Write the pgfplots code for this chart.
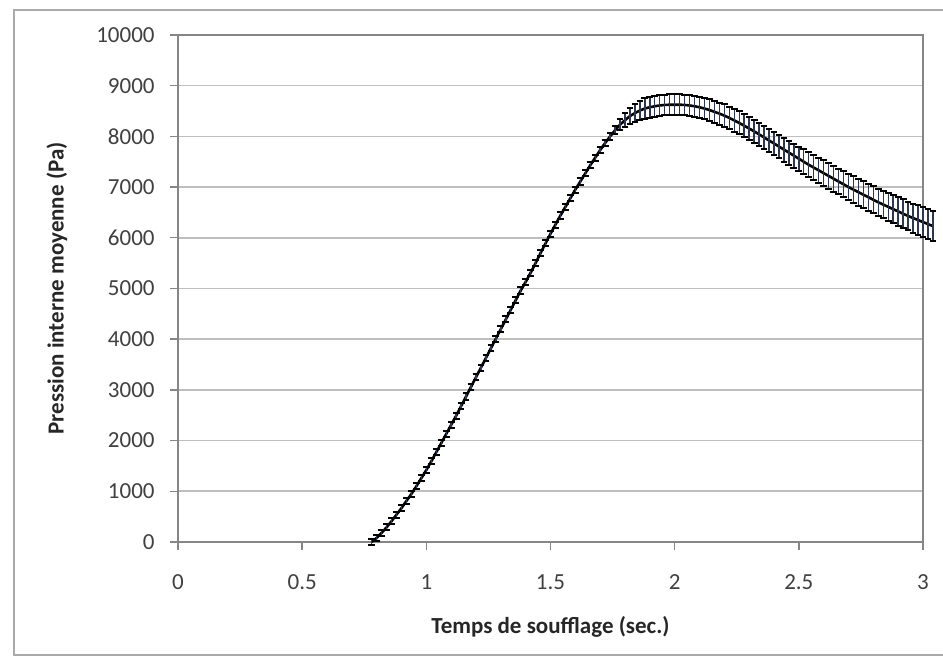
\documentclass[border=0pt]{standalone}
\usepackage{fontspec}
\setmainfont{Carlito}
\usepackage{pgfplots}
\pgfplotsset{compat=1.18}
\usepackage{pgfplotstable}

\definecolor{gridgray}{RGB}{190,190,190}
\definecolor{axgray}{RGB}{134,134,134}
\definecolor{txtgray}{RGB}{64,64,64}
\definecolor{barcol}{RGB}{45,55,78}

% temps (s), pression (Pa), ecart (Pa)
\pgfplotstableread{
t p e
0.78 0 60
0.80 80 60
0.82 180 60
0.84 290 60
0.86 410 60
0.88 540 60
0.90 670 60
0.92 810 60
0.94 950 60
0.96 1100 60
0.98 1260 60
1.00 1420 60
1.02 1590 60
1.04 1770 60
1.06 1950 60
1.08 2130 60
1.10 2310 60
1.12 2490 60
1.14 2680 60
1.16 2870 60
1.18 3060 60
1.20 3250 60
1.22 3440 60
1.24 3630 60
1.26 3820 60
1.28 4010 60
1.30 4200 60
1.32 4390 60
1.34 4580 60
1.36 4770 60
1.38 4960 60
1.40 5130 60
1.42 5310 60
1.44 5500 60
1.46 5700 60
1.48 5890 60
1.50 6080 60
1.52 6260 60
1.54 6440 60
1.56 6610 60
1.58 6780 60
1.60 6950 60
1.62 7110 60
1.64 7270 60
1.66 7430 60
1.68 7580 60
1.70 7730 60
1.72 7870 60
1.74 8000 65
1.76 8120 80
1.78 8230 110
1.80 8320 140
1.82 8400 165
1.84 8460 185
1.86 8510 195
1.88 8550 200
1.90 8575 205
1.92 8595 205
1.94 8610 205
1.96 8620 205
1.98 8625 205
2.00 8625 205
2.02 8625 205
2.04 8620 205
2.06 8610 207
2.08 8595 208
2.10 8575 210
2.12 8550 212
2.14 8520 214
2.16 8485 216
2.18 8450 218
2.20 8410 220
2.22 8365 222
2.24 8315 224
2.26 8265 226
2.28 8210 228
2.30 8155 229
2.32 8100 230
2.34 8040 232
2.36 7980 233
2.38 7920 234
2.40 7860 235
2.42 7800 236
2.44 7740 237
2.46 7680 238
2.48 7620 239
2.50 7560 240
2.52 7500 242
2.54 7440 244
2.56 7385 246
2.58 7330 248
2.60 7275 250
2.62 7220 252
2.64 7165 254
2.66 7110 256
2.68 7055 258
2.70 7000 260
2.72 6950 262
2.74 6900 264
2.76 6850 266
2.78 6800 268
2.80 6750 270
2.82 6700 272
2.84 6655 274
2.86 6610 276
2.88 6565 278
2.90 6520 280
2.92 6475 282
2.94 6430 284
2.96 6390 286
2.98 6350 288
3.00 6310 290
3.02 6270 290
3.04 6230 290
}\souffle

\begin{document}
\begin{tikzpicture}
  % image 943 x 662 px, 1 px = 0.5 pt, origin bottom left
  \path[use as bounding box, fill=white] (0,0) rectangle (471.5pt,331pt);
  \draw[axgray!70, line width=1pt] (471.5pt,326pt) -- (7pt,326pt) -- (7pt,3.5pt) -- (471.5pt,3.5pt);
  \begin{axis}[
    at={(89pt,60pt)}, anchor=south west,
    scale only axis,
    width=372.5pt, height=253.5pt,
    xmin=0, xmax=3,
    ymin=0, ymax=10000,
    xtick={0,0.5,...,3},
    ytick={0,1000,...,10000},
    scaled y ticks=false,
    clip=false,
    axis line style={axgray, line width=0.8pt},
    tick style={axgray, line width=0.7pt},
    tick align=outside,
    major tick length=4pt,
    xtick pos=bottom, ytick pos=left,
    ymajorgrids=true,
    grid style={gridgray, line width=0.8pt},
    /pgf/number format/assume math mode=true,
    /pgf/number format/1000 sep={},
    tick label style={font=\fontsize{11.5}{13}\selectfont, text=txtgray},
    yticklabel style={anchor=east, inner sep=0pt, xshift=-7.5pt},
    xticklabel style={anchor=north, inner sep=0pt, yshift=-12pt},
    xlabel={\textbf{Temps de soufflage (sec.)}},
    ylabel={\textbf{Pression interne moyenne (Pa)}},
    label style={font=\fontsize{11.5}{13}\selectfont, text=black!85},
    xlabel style={at={(axis description cs:0.5,-0.1677)}, anchor=center},
    ylabel style={at={(axis description cs:-0.1624,0.5)}, anchor=center},
  ]
    \addplot[black, line width=1.3pt,
      error bars/.cd, y dir=both, y explicit,
      error mark=|,
      error mark options={black, line width=1pt, mark size=1.7pt},
      error bar style={barcol, line width=0.7pt}]
      table[x=t, y=p, y error=e] {\souffle};
  \end{axis}
\end{tikzpicture}
\end{document}
